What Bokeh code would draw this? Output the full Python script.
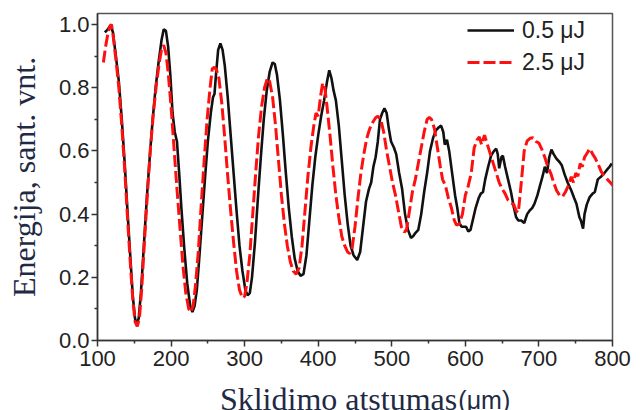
from bokeh.plotting import figure
from bokeh.models import Range1d, FixedTicker, PrintfTickFormatter, ColumnDataSource
from bokeh.layouts import column
from bokeh.core.properties import value
from bokeh.embed import file_html
from bokeh.resources import INLINE

# ---- data ----
x_05 = [110, 114, 118, 121, 125, 129, 133, 137, 141, 145, 148, 151, 153, 156, 159, 163, 167, 171, 175, 179,
        183, 187, 190, 193, 196, 199, 202, 205, 208, 211, 214, 218, 222, 226, 229, 232, 235, 238, 242, 246,
        250, 254, 257, 259, 261, 264, 267, 270, 273, 277, 281, 285, 289, 293, 297, 301, 304, 307, 310, 314,
        318, 322, 326, 330, 334, 338, 341, 344, 348, 352, 356, 360, 364, 368, 372, 376, 380, 384, 388, 392,
        396, 400, 404, 408, 412, 415, 418, 421, 424, 428, 432, 436, 440, 444, 448, 453, 457, 461, 465, 469,
        472, 475, 478, 481, 484, 487, 490, 493, 496, 499, 503, 506, 510, 514, 518, 522, 526, 529, 532, 536,
        540, 544, 548, 552, 556, 560, 564, 567, 570, 572, 575, 578, 582, 586, 589, 592, 595, 598, 601, 604,
        607, 610, 614, 618, 621, 624, 627, 631, 635, 639, 642, 644, 646, 649, 651, 654, 658, 662, 666, 669,
        672, 676, 680, 684, 687, 691, 694, 698, 701, 705, 708, 711, 714, 717, 720, 724, 728, 731, 735, 739,
        744, 748, 751, 755, 757, 760, 762, 765, 769, 773, 776, 780, 785, 789, 792, 796, 799]
y_05 = [0.975, 0.985, 0.998, 0.975, 0.90, 0.82, 0.70, 0.56, 0.40, 0.25, 0.14, 0.07, 0.05, 0.07, 0.15, 0.30, 0.45, 0.58, 0.70, 0.80,
        0.88, 0.95, 0.985, 0.98, 0.93, 0.84, 0.72, 0.66, 0.63, 0.53, 0.42, 0.29, 0.18, 0.11, 0.09, 0.11, 0.16, 0.25, 0.38, 0.51,
        0.63, 0.72, 0.77, 0.78, 0.84, 0.92, 0.94, 0.92, 0.87, 0.77, 0.65, 0.53, 0.41, 0.30, 0.22, 0.16, 0.143, 0.15, 0.20, 0.31,
        0.45, 0.58, 0.70, 0.79, 0.85, 0.88, 0.875, 0.84, 0.76, 0.65, 0.53, 0.42, 0.33, 0.26, 0.22, 0.205, 0.21, 0.27, 0.38, 0.49,
        0.58, 0.65, 0.71, 0.76, 0.82, 0.855, 0.83, 0.79, 0.76, 0.68, 0.57, 0.46, 0.37, 0.30, 0.27, 0.255, 0.28, 0.36, 0.44, 0.48,
        0.50, 0.55, 0.58, 0.63, 0.70, 0.72, 0.735, 0.72, 0.67, 0.63, 0.61, 0.59, 0.53, 0.48, 0.40, 0.35, 0.325, 0.33, 0.34, 0.35,
        0.40, 0.47, 0.53, 0.60, 0.64, 0.665, 0.675, 0.68, 0.66, 0.62, 0.635, 0.60, 0.53, 0.46, 0.42, 0.37, 0.36, 0.36, 0.36, 0.345,
        0.35, 0.38, 0.42, 0.45, 0.465, 0.47, 0.51, 0.55, 0.585, 0.60, 0.607, 0.59, 0.545, 0.58, 0.585, 0.55, 0.51, 0.47, 0.42, 0.39,
        0.38, 0.38, 0.372, 0.40, 0.41, 0.42, 0.433, 0.46, 0.486, 0.52, 0.55, 0.53, 0.58, 0.604, 0.59, 0.575, 0.565, 0.555, 0.525, 0.50,
        0.475, 0.45, 0.433, 0.39, 0.38, 0.354, 0.40, 0.43, 0.454, 0.465, 0.47, 0.51, 0.52, 0.53, 0.539, 0.55, 0.56]

x_25 = [108, 111, 114, 117, 119, 121, 125, 129, 133, 137, 141, 145, 148, 151, 154, 157, 160, 164, 168, 172,
        176, 180, 184, 187, 190, 193, 196, 200, 204, 208, 212, 216, 220, 224, 227, 230, 233, 237, 241, 245,
        249, 253, 256, 259, 262, 265, 269, 273, 277, 281, 285, 289, 293, 297, 300, 303, 307, 311, 315, 319,
        323, 327, 331, 334, 338, 342, 346, 350, 354, 358, 362, 366, 370, 374, 378, 382, 386, 390, 394, 397,
        400, 403, 406, 409, 412, 416, 420, 424, 428, 432, 436, 440, 443, 446, 450, 454, 458, 462, 466, 470,
        474, 478, 481, 485, 489, 493, 497, 501, 505, 509, 513, 517, 520, 524, 528, 532, 536, 540, 544, 548,
        551, 554, 558, 562, 566, 569, 573, 577, 581, 585, 588, 592, 596, 600, 604, 608, 612, 616, 619, 622,
        626, 630, 634, 638, 642, 646, 650, 654, 658, 662, 666, 669, 672, 676, 680, 684, 688, 692, 696, 700,
        704, 708, 712, 716, 720, 724, 728, 732, 736, 740, 744, 747, 750, 753, 756, 759, 762, 766, 769, 773,
        777, 781, 785, 789, 793, 797, 801]
y_25 = [0.88, 0.93, 0.97, 0.995, 1.0, 0.97, 0.89, 0.80, 0.68, 0.54, 0.38, 0.23, 0.13, 0.06, 0.045, 0.07, 0.16, 0.32, 0.47, 0.61,
        0.72, 0.81, 0.88, 0.92, 0.935, 0.91, 0.85, 0.74, 0.61, 0.48, 0.36, 0.24, 0.15, 0.10, 0.09, 0.11, 0.17, 0.28, 0.43, 0.57,
        0.70, 0.80, 0.86, 0.865, 0.855, 0.83, 0.75, 0.64, 0.52, 0.41, 0.31, 0.22, 0.16, 0.135, 0.14, 0.18, 0.27, 0.40, 0.53, 0.65,
        0.74, 0.80, 0.83, 0.82, 0.77, 0.68, 0.57, 0.46, 0.37, 0.30, 0.25, 0.22, 0.21, 0.23, 0.30, 0.41, 0.52, 0.61, 0.68, 0.72,
        0.71, 0.77, 0.815, 0.80, 0.74, 0.65, 0.55, 0.46, 0.39, 0.33, 0.30, 0.28, 0.275, 0.29, 0.36, 0.45, 0.53, 0.59, 0.64, 0.67,
        0.69, 0.705, 0.71, 0.70, 0.66, 0.60, 0.55, 0.50, 0.46, 0.41, 0.36, 0.343, 0.35, 0.41, 0.47, 0.51, 0.56, 0.61, 0.66, 0.70,
        0.706, 0.70, 0.67, 0.61, 0.55, 0.51, 0.49, 0.45, 0.42, 0.38, 0.365, 0.37, 0.40, 0.46, 0.49, 0.53, 0.61, 0.635, 0.644, 0.62,
        0.65, 0.62, 0.59, 0.56, 0.53, 0.50, 0.48, 0.465, 0.444, 0.435, 0.43, 0.41, 0.405, 0.50, 0.60, 0.632, 0.64, 0.642, 0.63, 0.625,
        0.605, 0.58, 0.55, 0.53, 0.50, 0.475, 0.46, 0.455, 0.47, 0.49, 0.518, 0.50, 0.53, 0.52, 0.56, 0.55, 0.58, 0.595, 0.607, 0.59,
        0.575, 0.555, 0.533, 0.52, 0.51, 0.50, 0.49]

series_labels = ["0.5 \u03bcJ", "2.5 \u03bcJ"]
x_ticks = [100, 200, 300, 400, 500, 600, 700, 800]
x_minor = [150, 250, 350, 450, 550, 650, 750]
y_ticks = [0.0, 0.2, 0.4, 0.6, 0.8, 1.0]
y_minor = [0.1, 0.3, 0.5, 0.7, 0.9]
x_title = "Sklidimo atstumas"
x_unit = "(\u03bcm)"
y_title = "Energija, sant. vnt."

TITLE_COLOR = "#1f2a44"

p = figure(width=643, height=380, output_backend="svg", toolbar_location=None, title=None,
           x_range=Range1d(100, 800), y_range=Range1d(0, 1.035),
           min_border_left=97, min_border_right=31, min_border_top=13, min_border_bottom=40)
p.background_fill_color = "white"
p.border_fill_color = "white"
p.outline_line_color = "#555555"
p.outline_line_width = 1.5
p.xgrid.visible = False
p.ygrid.visible = False

src05 = ColumnDataSource(dict(x=x_05, y=y_05))
src25 = ColumnDataSource(dict(x=x_25, y=y_25))
p.line("x", "y", source=src05, line_color="#111111", line_width=2.6, legend_label=series_labels[0])
p.line("x", "y", source=src25, line_color="#ff1010", line_width=3, line_dash="12 4", legend_label=series_labels[1])

for ax in (p.xaxis[0], p.yaxis[0]):
    ax.axis_line_color = "#333333"
    ax.axis_line_width = 1.5
    ax.major_tick_line_color = "#333333"
    ax.major_tick_line_width = 1.5
    ax.minor_tick_line_color = "#333333"
    ax.minor_tick_line_width = 1.5
    ax.major_tick_out = 6
    ax.major_tick_in = 0
    ax.minor_tick_out = 3
    ax.minor_tick_in = 0
    ax.major_label_text_font = "Liberation Sans"
    ax.major_label_text_font_size = "22px"
    ax.major_label_text_color = "#222222"

p.xaxis[0].ticker = FixedTicker(ticks=x_ticks, minor_ticks=x_minor)
p.yaxis[0].ticker = FixedTicker(ticks=y_ticks, minor_ticks=y_minor)
p.yaxis[0].formatter = PrintfTickFormatter(format="%.1f")
p.xaxis[0].major_label_standoff = 4
p.yaxis[0].major_label_standoff = 2

p.yaxis[0].axis_label = y_title
p.yaxis[0].axis_label_text_font = "Liberation Serif"
p.yaxis[0].axis_label_text_font_size = "32px"
p.yaxis[0].axis_label_text_font_style = "normal"
p.yaxis[0].axis_label_text_color = TITLE_COLOR
p.yaxis[0].axis_label_standoff = 14

lg = p.legend[0]
lg.location = (370, 264)
lg.border_line_color = None
lg.background_fill_alpha = 0
lg.padding = 0
lg.margin = 0
lg.spacing = 4
lg.glyph_width = 47
lg.glyph_height = 28
lg.label_height = 28
lg.label_standoff = 8
lg.label_text_font = "Liberation Sans"
lg.label_text_font_size = "23px"
lg.label_text_color = "#222222"
lg.label_text_baseline = "middle"

# strip below the plot carrying the x-axis title (serif words + sans-serif unit);
# it shares the x range of the plot, whose frame the column aligns with it
p2 = figure(width=643, height=30, output_backend="svg", toolbar_location=None, title=None,
            x_range=p.x_range, y_range=Range1d(0, 30),
            x_axis_type=None, y_axis_type=None,
            min_border_left=0, min_border_right=0, min_border_top=0, min_border_bottom=0)
p2.outline_line_color = None
p2.xgrid.visible = False
p2.ygrid.visible = False
p2.background_fill_color = "white"
p2.border_fill_color = "white"
p2.text(x=[589], y=[12], text=[x_title], text_align="right", text_baseline="middle",
        text_font=value("Liberation Serif"), text_font_size=value("32px"), text_color=TITLE_COLOR)
p2.text(x=[590.5], y=[11], text=[x_unit], text_align="left", text_baseline="middle",
        text_font=value("Liberation Sans"), text_font_size=value("25px"), text_color=TITLE_COLOR)

layout = column(p, p2, spacing=0)
open("out.html", "w").write(file_html(layout, INLINE))
